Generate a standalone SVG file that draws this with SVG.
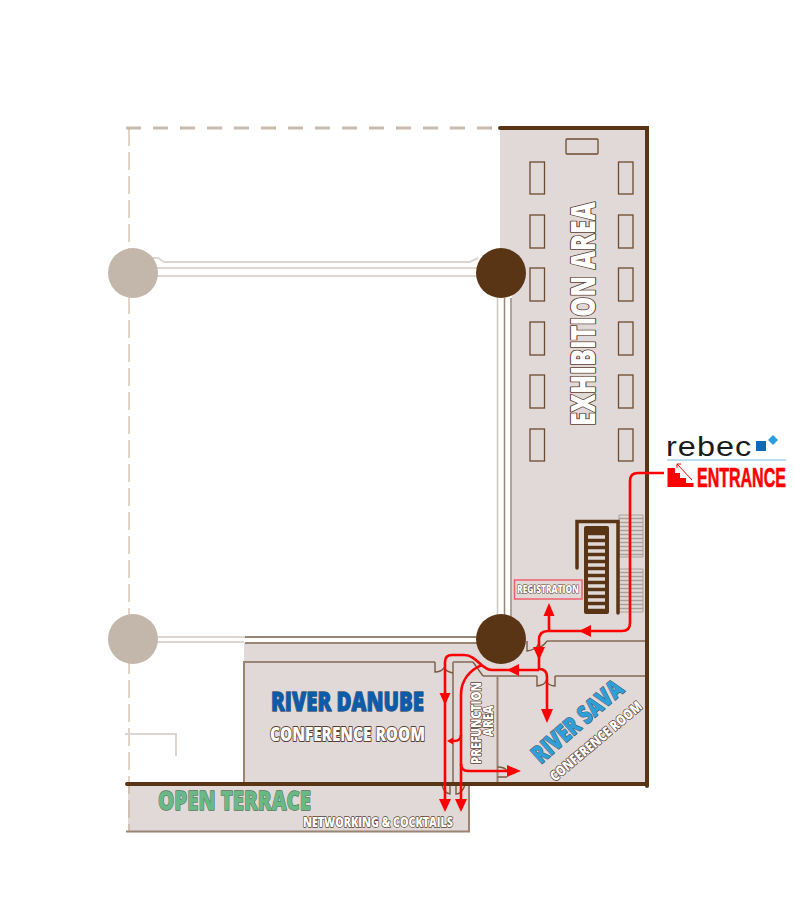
<svg xmlns="http://www.w3.org/2000/svg" width="795" height="900" viewBox="0 0 795 900">
<style>
.wall{fill:none;stroke:#5a3515;stroke-width:4;stroke-linecap:round}
.line{fill:none;stroke:#9a8474;stroke-width:2}
.thin{fill:none;stroke:#7a5a40;stroke-width:1.4}
.beam{fill:none;stroke:#ddd6d0;stroke-width:2}
.tbl{fill:none;stroke:#6e4a30;stroke-width:1.3}
.t{font-family:"Open Sans","Liberation Sans",sans-serif;font-weight:800;paint-order:stroke;stroke-linejoin:round;text-anchor:middle}
.w{fill:#fff;stroke:#5a4030;stroke-width:2}
.route{fill:none;stroke:#f00;stroke-width:2.6;stroke-linejoin:round}
.arr{fill:#f00}
.hatch{stroke:#aaa09a;stroke-width:1.300}
</style>
<g id="floor">
<path d="M500,128H646V783H244V643H512V250H500Z" fill="#e0d9d8"/>
<rect x="128" y="785" width="341" height="46" fill="#e0d9d8"/>
</g>
<g id="outline">
<path d="M126,128H500" fill="none" stroke="#c8bcb0" stroke-width="3" stroke-dasharray="15 12"/>
<path d="M129,128V830" fill="none" stroke="#c4a88e" stroke-width="1" stroke-dasharray="18 6"/>
<path class="beam" d="M150,258H158L164,262H470L478,258"/>
<path class="beam" d="M155,268H480M155,276H480"/>
<path class="beam" d="M155,637H245M155,642H244M125,734H176V756"/>
<path d="M497.500,298V636" fill="none" stroke="#cfc6be" stroke-width="1.500"/>
<path d="M504.500,298V636M511,298V643" fill="none" stroke="#9a8474" stroke-width="1.500"/>
<path class="line" d="M245,637H480M245,643H480"/>
<path class="line" d="M435,662H244V783"/>
<path class="line" d="M453,662V783"/>
<path class="line" d="M453,662H473M483,676H537M555,676H646M547,641H646M497.500,676V783M469,785V831.500H126"/>
<path class="thin" d="M435,662V672Q441,672 444,668Q447,672 453,673M473,662L483,676M527,641V651Q535,650 538,645Q540,650 547,641M537,676V686Q545,685 546,681Q549,686 555,686V676"/>
<path class="thin" d="M442,785Q444,793 450,794V785M456,785V794Q462,794 465,785M497.500,767Q505,767 507,771M497.500,777H507"/>
<path class="wall" d="M500,128H647V786"/>
<path class="wall" d="M127,784H647"/>
</g>
<g id="pillars">
<circle cx="133" cy="273" r="25" fill="#c3b6aa"/>
<circle cx="133" cy="639" r="25" fill="#c3b6aa"/>
<circle cx="501" cy="273" r="25" fill="#5a3515"/>
<circle cx="501" cy="639" r="25" fill="#5a3515"/>
</g>
<g id="tables">
<rect class="tbl" x="566" y="139" width="32" height="15" rx="1"/>
<rect class="tbl" x="530" y="162" width="14.500" height="32"/><rect class="tbl" x="530" y="215" width="14.500" height="33"/><rect class="tbl" x="530" y="268" width="14.500" height="33"/><rect class="tbl" x="530" y="322" width="14.500" height="33"/><rect class="tbl" x="530" y="375" width="14.500" height="33"/><rect class="tbl" x="530" y="429" width="14.500" height="32"/>
<rect class="tbl" x="618.500" y="162" width="14.500" height="32"/><rect class="tbl" x="618.500" y="215" width="14.500" height="33"/><rect class="tbl" x="618.500" y="268" width="14.500" height="33"/><rect class="tbl" x="618.500" y="322" width="14.500" height="33"/><rect class="tbl" x="618.500" y="375" width="14.500" height="33"/><rect class="tbl" x="618.500" y="429" width="14.500" height="32"/>
</g>
<g id="stairs">
<path d="M619,515H643V557H619ZM619,569H643V612H619Z" fill="none" stroke="#aaa09a"/>
<path class="hatch" d="M619,518.500H643M619,522.500H643M619,526.500H643M619,530.500H643M619,534.500H643M619,538.500H643M619,542.500H643M619,546.500H643M619,550.500H643M619,554.500H643M619,572.500H643M619,576.500H643M619,580.500H643M619,584.500H643M619,588.500H643M619,592.500H643M619,596.500H643M619,600.500H643M619,604.500H643M619,608.500H643"/>
<path d="M577,568V521.500H618V613" fill="none" stroke="#5a3515" stroke-width="3.500" stroke-linecap="round"/>
<rect x="584" y="526" width="25" height="88" rx="2" fill="#5a3515"/>
<path d="M588,537H605M588,544H605M588,551H605M588,558H605M588,565H605M588,572H605M588,579H605M588,586H605M588,593H605M588,600H605M588,607H605" stroke="#e0d9d8" stroke-width="3.500"/>
</g>
<g id="connectors">
<path class="route" d="M664,473H638Q630,473 630,481V623Q630,631 622,631H548Q539,631 539,640V670"/>
<path class="route" d="M549,631V615"/>
<path class="route" d="M539,670H492C481,670 477,655 464,655H452Q445,655 445,662V800"/>
<path class="route" d="M539,669Q547,669 547,677V710"/>
<path class="route" d="M482,665C470,670 461,680 461,695V800"/>
<path class="route" d="M461,764Q461,771 468,771H508"/>
<path class="route" d="M461,735Q461,741 454,741H450" stroke-width="2"/>
<path class="arr" d="M579,631L591,625V637Z"/>
<path class="arr" d="M549,603L543.500,616H554.500Z"/>
<path class="arr" d="M539,660L533,647H545Z"/>
<path class="arr" d="M507,670L519,664V676Z"/>
<path class="arr" d="M547,723L541,709H553Z"/>
<path class="arr" d="M445,705L439.500,693H450.500Z"/>
<path class="arr" d="M445,812L439,799H451Z"/>
<path class="arr" d="M461,812L455,799H467Z"/>
<path class="arr" d="M521,771L507,765V777Z"/>
<path class="arr" d="M447,741L453,737.500V744.500Z"/>
</g>
<g id="exhibition"><text class="t w" transform="translate(595,314) rotate(-90)" font-size="34" textLength="224" lengthAdjust="spacingAndGlyphs">EXHIBITION AREA</text></g>
<g id="registration">
<rect x="514.500" y="580" width="67.500" height="19" fill="none" stroke="#f0606a" stroke-width="1.500"/>
<text class="t w" x="548" y="593" font-size="10" textLength="62" lengthAdjust="spacingAndGlyphs" style="stroke-width:1.200">REGISTRATION</text>
</g>
<g id="danube">
<text class="t" x="347.500" y="711" font-size="27" textLength="153" lengthAdjust="spacingAndGlyphs" fill="#0b5cab" stroke="#4a5a70" stroke-width="1.300">RIVER DANUBE</text>
<text class="t w" x="347.500" y="741" font-size="20" textLength="155" lengthAdjust="spacingAndGlyphs">CONFERENCE ROOM</text>
</g>
<g id="prefunction">
<text class="t w" transform="translate(481,723) rotate(-90)" font-size="14" textLength="82" lengthAdjust="spacingAndGlyphs" style="stroke-width:1.500">PREFUNCTION</text>
<text class="t w" transform="translate(493,721) rotate(-90)" font-size="14" textLength="31" lengthAdjust="spacingAndGlyphs" style="stroke-width:1.500">AREA</text>
</g>
<g id="sava">
<text class="t" transform="translate(583,728) rotate(-41)" font-size="25" textLength="112" lengthAdjust="spacingAndGlyphs" fill="#2f9fd8" stroke="#4a5a70" stroke-width="1.300">RIVER SAVA</text>
<text class="t w" transform="translate(599,745) rotate(-40)" font-size="14" textLength="115" lengthAdjust="spacingAndGlyphs" style="stroke-width:1.500">CONFERENCE ROOM</text>
</g>
<g id="terrace">
<text class="t" x="234.500" y="810" font-size="27" textLength="153" lengthAdjust="spacingAndGlyphs" fill="#68b985" stroke="#55755a" stroke-width="1.300">OPEN TERRACE</text>
<text class="t w" x="378" y="827" font-size="14" textLength="150" lengthAdjust="spacingAndGlyphs" style="stroke-width:1.500">NETWORKING &amp; COCKTAILS</text>
</g>
<g id="logo">
<text transform="translate(666,456) scale(1.200,1)" font-family="'Liberation Sans',sans-serif" font-size="27" fill="#1a1a1a" textLength="71" lengthAdjust="spacing">rebec</text>
<rect x="756" y="441" width="10" height="10" fill="#0d6ab8"/>
<path d="M773,435L778,440L773,445L768,440Z" fill="#2a9fdc"/>
<path d="M667,460H786" stroke="#a8d0e8" stroke-width="1.500"/>
</g>
<g id="entrance">
<path d="M667.500,468H675V473H680V478H686V483H693.500V487H667.500Z" fill="#f00"/>
<path d="M677,464L692,480M677,464h4M677,464v4" fill="none" stroke="#f00" stroke-width="1"/>
<text transform="translate(697,487) scale(.57,1)" font-family="'Liberation Sans',sans-serif" font-weight="700" font-size="28" fill="#f00" stroke="#f00" stroke-width=".6" textLength="156" lengthAdjust="spacingAndGlyphs">ENTRANCE</text>
</g>
</svg>
